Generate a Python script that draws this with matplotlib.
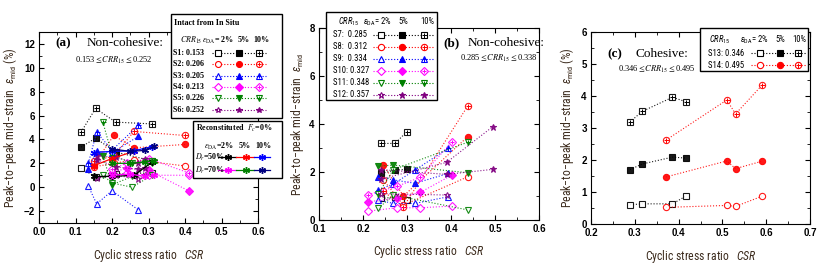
"""
Peak-to-peak mid-strain vs cyclic stress ratio, three panels.
"""
import matplotlib
matplotlib.use("Agg")
import matplotlib.pyplot as plt
import numpy as np
from matplotlib import font_manager
from matplotlib.lines import Line2D
from matplotlib.patches import Rectangle
from matplotlib.ticker import MultipleLocator, FormatStrFormatter

nan = np.nan
W, H = 840, 275

# ---- panel (a): intact non-cohesive, eps_mid for eps_DA = 2%, 5%, 10%
S1_CSR = [0.115, 0.155, 0.21, 0.31]
S1_EPS = ([1.6, 0.85, 1.1, 1.2], [3.36, 4.1, 2.95, 2.2], [4.6, 6.6, 5.45, 5.3])
S2_CSR = [0.15, 0.205, 0.26, 0.40]
S2_EPS = ([1.7, 2.0, 2.3, 1.78], [1.9, 4.33, 3.3, 3.58], [2.2, 2.6, 4.67, 4.33])
S3_CSR = [0.135, 0.158, 0.20, 0.272]
S3_EPS = ([0.1, -1.4, -0.3, -1.9], [1.5, 3.0, 2.9, 4.25], [2.0, 4.6, 3.1, 5.17])
S4_CSR = [0.20, 0.24, 0.30, 0.41]
S4_EPS = ([0.9, 1.2, 1.0, 1.0], [1.2, 1.6, 1.4, -0.3], [1.5, 2.0, 2.4, 1.2])
S5_CSR = [0.175, 0.20, 0.255, 0.31]
S5_EPS = ([1.0, 0.35, 0.0, 1.0], [2.6, 0.2, 0.9, 2.0], [5.45, 2.7, 2.0, 2.2])
S6_CSR = [0.16, 0.21, 0.27, 0.29]
S6_EPS = ([0.8, 1.0, 0.7, 1.0], [2.3, 1.7, 1.5, 1.6], [2.6, 2.5, 2.0, 2.4])

# reconstituted, Fc = 0%
DR50_CSR = [0.15, 0.20, 0.26, 0.31]
DR50_EPS = ([0.9, 0.9, 1.0, 2.1], [1.8, 2.4, 3.0, nan], [2.9, 3.0, 3.05, 3.4])
DR70_CSR = [0.20, 0.25, 0.29, 0.315]
DR70_EPS = ([1.0, 1.1, 0.9, 1.0], [2.0, 2.0, 2.1, 2.2], [3.2, 3.0, 3.08, 3.42])

# ---- panel (b)
S7_CSR = [0.242, 0.273, 0.299]
S7_EPS = ([0.9, 0.95, 0.83], [1.94, 2.08, 2.11], [3.19, 3.19, 3.67])
S8_CSR = [0.246, 0.292, 0.438]
S8_EPS = ([1.67, 0.62, 1.8], [2.29, 1.0, 3.47], [1.2, 0.55, 4.75])
S9_CSR = [0.235, 0.269, 0.318, 0.394]
S9_EPS = ([0.83, 0.69, 0.69, 0.97], [1.8, 1.67, 1.53, 1.94], [1.25, 1.5, 2.08, 2.99])
S10_CSR = [0.212, 0.277, 0.33, 0.402]
S10_EPS = ([0.37, 0.51, 0.51, 0.58], [0.76, 0.9, 1.15, 1.87], [1.06, 1.4, 1.78, 3.26])
S11_CSR = [0.235, 0.269, 0.438]
S11_EPS = ([0.49, 1.04, 0.42], [2.24, 2.29, 1.97], [1.1, 2.1, 3.24])
S12_CSR = [0.24, 0.39, 0.495]
S12_EPS = ([1.1, 1.04, nan], [2.1, 1.9, 2.11], [1.7, 2.4, 3.89])

# ---- panel (c): cohesive
S13_CSR = [0.289, 0.317, 0.386, 0.417]
S13_EPS = ([0.6, 0.63, 0.63, 0.875], [1.70, 1.875, 2.09, 2.06], [3.19, 3.52, 3.96, 3.82])
S14_CSR = [0.371, 0.51, 0.53, 0.59]
S14_EPS = ([0.52, 0.58, 0.55, 0.865], [1.47, 1.97, 1.73, 1.96], [2.62, 3.875, 3.44, 4.33])

BLACK, RED, BLUE = "#000000", "#ff0000", "#0000ff"
MAG, GREEN, PURP, NAVY = "#ff00ff", "#008000", "#800080", "#000080"
LBL = "#3b2a1c"
ASTER = (6, 2, 0)

# the original uses a narrow sans; use one if it is installed
_names = {f.name for f in font_manager.fontManager.ttflist}
NARROW = [n for n in ("Liberation Sans Narrow", "Roboto Condensed", "DejaVu Sans Condensed")
          if n in _names]
SANS = NARROW + ["Liberation Sans", "DejaVu Sans"]
SERIF = ["Liberation Serif", "DejaVu Serif"]
LEG = 6.2 if NARROW else 5.6

plt.rcParams["font.family"] = ["Liberation Sans", "DejaVu Sans"]
plt.rcParams["mathtext.fontset"] = "custom"
plt.rcParams["mathtext.rm"] = SANS[0]
plt.rcParams["mathtext.it"] = SANS[0] + ":italic"
plt.rcParams["mathtext.bf"] = SANS[0] + ":bold"
fig = plt.figure(figsize=(W / 100, H / 100), dpi=100)


def fxy(x, y):
    return x / W, 1 - y / H


def add_axes(l, r, t, b):
    return fig.add_axes([l / W, 1 - b / H, (r - l) / W, (b - t) / H])


def draw_series(ax, csr, eps, color, marker, ms=4.5, ls=":"):
    for i, vals in enumerate(eps):
        filled = i == 1 or (i == 2 and marker == "*")
        ax.plot(csr, vals, ls=ls, lw=0.8, color=color, marker=marker, ms=ms,
                mfc=color if filled else "white", mec=color, mew=0.8, alpha=0.9)
        if i == 2 and marker != "*":
            ax.plot(csr, vals, ls="none", marker="+", ms=ms * 0.8, mec=color, mew=0.7)


def draw_recon(ax, csr, eps, colors):
    for vals, c in zip(eps, colors):
        ax.plot(csr, vals, ls="-", lw=0.9, color=c, marker=ASTER, ms=5, mec=c, mew=1.0)


def fig_line(xs, y, **kw):
    fig.add_artist(Line2D([x / W for x in xs], [1 - y / H] * len(xs),
                          transform=fig.transFigure, **kw))


def key_row(y, xs, x0, x1, color, marker, ms=4.5):
    fig_line([x0, x1], y, color=color, lw=0.8, ls=":")
    for i, x in enumerate(xs):
        filled = i == 1 or (i == 2 and marker == "*")
        fig_line([x], y, marker=marker, ms=ms, mfc=color if filled else "white",
                 mec=color, mew=0.8, ls="none")
        if i == 2 and marker != "*":
            fig_line([x], y, marker="+", ms=ms * 0.8, mec=color, mew=0.7, ls="none")


def box(x0, x1, y0, y1):
    fig.add_artist(Rectangle(fxy(x0, y1), (x1 - x0) / W, (y1 - y0) / H, transform=fig.transFigure,
                             facecolor="white", edgecolor="black", lw=1.0))


def ftext(x, y, s, serif=False, **kw):
    fig.text(*fxy(x, y), s, family=SERIF if serif else SANS,
             math_fontfamily="stix" if serif else "custom", va="center", zorder=5, **kw)


def style_axes(ax, xlim, ylim, xmaj, ymaj, ylabel, ylab_off, xlab_off):
    ax.set_xlim(*xlim)
    ax.set_ylim(*ylim)
    ax.xaxis.set_major_locator(MultipleLocator(xmaj))
    ax.xaxis.set_minor_locator(MultipleLocator(xmaj / 2))
    ax.yaxis.set_major_locator(MultipleLocator(ymaj))
    ax.yaxis.set_minor_locator(MultipleLocator(ymaj / 2))
    ax.xaxis.set_major_formatter(FormatStrFormatter("%.1f"))
    ax.tick_params(which="both", direction="in", top=True, right=True, labelsize=7, pad=3)
    ax.tick_params(which="major", length=3.5, width=0.8)
    ax.tick_params(which="minor", length=2, width=0.6)
    for lab in ax.get_xticklabels() + ax.get_yticklabels():
        lab.set_fontweight("bold")
    for s in ax.spines.values():
        s.set_linewidth(0.8)
    fs = 8.5 if NARROW else 7.6
    ax.set_xlabel(r"Cyclic stress ratio   $\mathit{CSR}$", fontsize=fs, color=LBL,
                  family=SANS, math_fontfamily="custom")
    ax.set_ylabel(ylabel, fontsize=fs, color=LBL, family=SANS, math_fontfamily="custom")
    bb = ax.get_position()
    ax.xaxis.set_label_coords(0.5, -xlab_off / (bb.height * H))
    ax.yaxis.set_label_coords(-ylab_off / (bb.width * W), 0.5)


# ---------------- panel (a)
ax_a = add_axes(39, 258, 32, 223)
sites_a = [(S1_CSR, S1_EPS, BLACK, "s"), (S2_CSR, S2_EPS, RED, "o"), (S3_CSR, S3_EPS, BLUE, "^"),
           (S4_CSR, S4_EPS, MAG, "D"), (S5_CSR, S5_EPS, GREEN, "v"), (S6_CSR, S6_EPS, PURP, "*")]
for csr, eps, c, m in sites_a:
    draw_series(ax_a, csr, eps, c, m, ms=4.5 if m != "D" else 3.8)
draw_recon(ax_a, DR50_CSR, DR50_EPS, [BLACK, RED, BLUE])
draw_recon(ax_a, DR70_CSR, DR70_EPS, [MAG, GREEN, NAVY])
style_axes(ax_a, (0, 0.6), (-3, 13), 0.1, 2,
           r"Peak$-$to$-$peak mid$-$strain  $\varepsilon_{\rm mid}$ (%)", 20, 24)

ftext(55, 43, "(a)", serif=True, fontsize=9.5, fontweight="bold")
ftext(87, 43, "Non-cohesive:", serif=True, fontsize=9.5)
ftext(75, 60, r"0.153$\leq$$CRR_{15}$$\leq$0.252", serif=True, fontsize=6)

box(171, 282, 14, 118)
ftext(174, 23, "Intact from In Situ", serif=True, fontsize=5.8, fontweight="bold")
ftext(191, 40, r"$CRR_{15}$", serif=True, fontsize=5.8, ha="center")
ftext(234, 40, r"$\varepsilon_{\rm DA}$= 2%", serif=True, fontsize=5.8, fontweight="bold", ha="right")
ftext(244, 40, "5%", serif=True, fontsize=5.8, fontweight="bold", ha="center")
ftext(261, 40, "10%", serif=True, fontsize=5.8, fontweight="bold", ha="center")
rows_a = [("S1: 0.153", BLACK, "s"), ("S2: 0.206", RED, "o"), ("S3: 0.205", BLUE, "^"),
          ("S4: 0.213", MAG, "D"), ("S5: 0.226", GREEN, "v"), ("S6: 0.252", PURP, "*")]
for k, (lab, c, m) in enumerate(rows_a):
    y = 53 + k * 11.3
    ftext(173, y, lab, serif=True, fontsize=5.8, fontweight="bold")
    key_row(y, [218, 239, 259], 212, 266, c, m, ms=4.3 if m != "D" else 3.6)

box(193, 282, 121, 178)
ftext(196, 128, r"Reconstituted  $F_c$=0%", serif=True, fontsize=5.8, fontweight="bold")
ftext(234, 146, r"$\varepsilon_{\rm DA}$=2%", serif=True, fontsize=5.8, fontweight="bold", ha="right")
ftext(245, 146, "5%", serif=True, fontsize=5.8, fontweight="bold", ha="center")
ftext(263, 146, "10%", serif=True, fontsize=5.8, fontweight="bold", ha="center")
for y, lab, cols in [(157, r"$D_r$=50%", [BLACK, RED, BLUE]), (170, r"$D_r$=70%", [MAG, GREEN, NAVY])]:
    ftext(195, y, lab, serif=True, fontsize=5.8, fontweight="bold")
    for (xa, xb), xm, c in zip([(218, 236), (236, 254), (254, 270)], [228, 246, 262], cols):
        fig_line([xa, xb], y, color=c, lw=0.9)
        fig_line([xm], y, marker=ASTER, ms=5, mec=c, mew=1.0, ls="none")

# ---------------- panel (b)
ax_b = add_axes(319, 539, 28, 220)
sites_b = [(S7_CSR, S7_EPS, BLACK, "s"), (S8_CSR, S8_EPS, RED, "o"), (S9_CSR, S9_EPS, BLUE, "^"),
           (S10_CSR, S10_EPS, MAG, "D"), (S11_CSR, S11_EPS, GREEN, "v"), (S12_CSR, S12_EPS, PURP, "*")]
for csr, eps, c, m in sites_b:
    draw_series(ax_b, csr, eps, c, m, ms=4.5 if m != "D" else 3.8)
style_axes(ax_b, (0.1, 0.6), (0, 8), 0.1, 2,
           r"Peak$-$to$-$peak mid$-$strain  $\varepsilon_{\rm mid}$", 13, 23)

ftext(443, 43, "(b)", serif=True, fontsize=9.5, fontweight="bold")
ftext(468, 43, "Non-cohesive:", serif=True, fontsize=9.5)
ftext(460, 58, r"0.285$\leq$$CRR_{15}$$\leq$0.338", serif=True, fontsize=6)

box(326, 437, 12, 100)
ftext(349, 22, r"$\mathit{CRR}_{15}$", fontsize=LEG, ha="center")
ftext(392, 22, r"$\varepsilon_{\rm DA}$= 2%", fontsize=LEG, ha="right")
ftext(403, 22, "5%", fontsize=LEG, ha="center")
ftext(427, 22, "10%", fontsize=LEG, ha="center")
rows_b = [("S7:  0.285", BLACK, "s"), ("S8:  0.312", RED, "o"), ("S9:  0.334", BLUE, "^"),
          ("S10: 0.327", MAG, "D"), ("S11: 0.348", GREEN, "v"), ("S12: 0.357", PURP, "*")]
for k, (lab, c, m) in enumerate(rows_b):
    y = 35 + k * 11.9
    ftext(333, y, lab, fontsize=LEG)
    key_row(y, [381, 402, 424], 373, 433, c, m, ms=4.5 if m != "D" else 3.8)

# ---------------- panel (c)
ax_c = add_axes(591, 810, 32, 224)
draw_series(ax_c, S13_CSR, S13_EPS, BLACK, "s")
draw_series(ax_c, S14_CSR, S14_EPS, RED, "o")
style_axes(ax_c, (0.2, 0.7), (0, 6), 0.1, 1,
           r"Peak$-$to$-$peak mid$-$strain  $\varepsilon_{\rm mid}$ (%)", 15, 24)

ftext(607, 54, "(c)", serif=True, fontsize=9.5, fontweight="bold")
ftext(635, 54, "Cohesive:", serif=True, fontsize=9.5)
ftext(618, 69, r"0.346$\leq$$CRR_{15}$$\leq$0.495", serif=True, fontsize=6)

box(700, 808, 28, 71)
ftext(720, 40, r"$\mathit{CRR}_{15}$", fontsize=LEG, ha="center")
ftext(769, 40, r"$\varepsilon_{\rm DA}$= 2%", fontsize=LEG, ha="right")
ftext(780, 40, "5%", fontsize=LEG, ha="center")
ftext(799, 40, "10%", fontsize=LEG, ha="center")
for y, lab, c, m in [(53, "S13: 0.346", BLACK, "s"), (65, "S14: 0.495", RED, "o")]:
    ftext(708, y, lab, fontsize=LEG)
    key_row(y, [760, 780, 798], 751, 806, c, m)

fig.savefig("out.png", dpi=100)
